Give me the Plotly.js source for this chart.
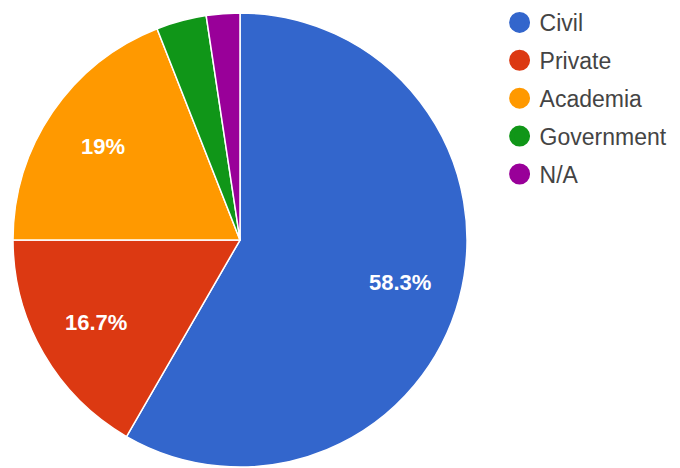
<!DOCTYPE html>
<html>
<head>
<meta charset="utf-8">
<script src="https://cdn.plot.ly/plotly-3.0.1.min.js"></script>
<style>html,body{margin:0;padding:0;background:#fff;}#chart{width:680px;height:468px;}</style>
</head>
<body>
<div id="chart"></div>
<script>
const categories = ["Civil", "Private", "Academia", "Government", "N/A"];
const counts = [49, 14, 16, 3, 2];
const colors = ["#3366cc", "#dc3912", "#ff9900", "#109618", "#990099"];
const showLabel = [true, true, true, false, false];

const W = 680, H = 468;
const pieCx = 240, pieCy = 240, pieR = 227;
const labelRadiusFrac = 0.73;
const fontFamily = "Arial, 'Liberation Sans', sans-serif";

const pie = {
  type: "pie",
  labels: categories,
  values: counts,
  sort: false,
  direction: "clockwise",
  rotation: 0,
  marker: { colors: colors, line: { color: "#ffffff", width: 1.5 } },
  textinfo: "none",
  hoverinfo: "none",
  showlegend: false,
  domain: { x: [(pieCx - pieR) / W, (pieCx + pieR) / W], y: [1 - (pieCy + pieR) / H, 1 - (pieCy - pieR) / H] }
};

const legendTraces = categories.map((c, i) => ({
  type: "scatter",
  mode: "markers",
  x: [null],
  y: [null],
  name: c,
  legendgroup: "g" + i,
  marker: { color: colors[i], size: 16, symbol: "circle", line: { color: colors[i], width: 5 } },
  hoverinfo: "none",
  showlegend: true
}));

// percentage labels placed along each slice's bisector (derived from the data)
const total = counts.reduce((a, b) => a + b, 0);
function fmtPct(v) {
  let s = (v * 100).toPrecision(3);
  if (s.indexOf('.') !== -1) s = s.replace(/[.]?0+$/, '');
  return s + '%';
}
const annotations = [];
let cum = 0;
counts.forEach((v, i) => {
  const frac = v / total;
  const mid = (cum + frac / 2) * 2 * Math.PI;
  cum += frac;
  if (!showLabel[i]) return;
  const px = pieCx + Math.sin(mid) * pieR * labelRadiusFrac;
  const py = pieCy - Math.cos(mid) * pieR * labelRadiusFrac;
  annotations.push({
    xref: "paper", yref: "paper",
    x: px / W, y: 1 - py / H,
    xanchor: "center", yanchor: "middle",
    text: fmtPct(frac),
    showarrow: false,
    font: { family: fontFamily, size: 22, color: "#ffffff", weight: "bold" }
  });
});

const layout = {
  width: W,
  height: H,
  margin: { l: 0, r: 0, t: 0, b: 0 },
  paper_bgcolor: "#ffffff",
  plot_bgcolor: "#ffffff",
  xaxis: { visible: false, domain: [0.99, 1] },
  yaxis: { visible: false, domain: [0.99, 1] },
  showlegend: true,
  annotations: annotations,
  legend: {
    x: 0.7347, y: 0.998, xanchor: "left", yanchor: "top",
    font: { family: fontFamily, size: 23, color: "#444444" },
    traceorder: "grouped",
    tracegroupgap: 5,
    itemwidth: 30,
    bgcolor: "rgba(0,0,0,0)"
  }
};

Plotly.newPlot("chart", [pie].concat(legendTraces), layout, { displayModeBar: false, staticPlot: true });
</script>
</body>
</html>
